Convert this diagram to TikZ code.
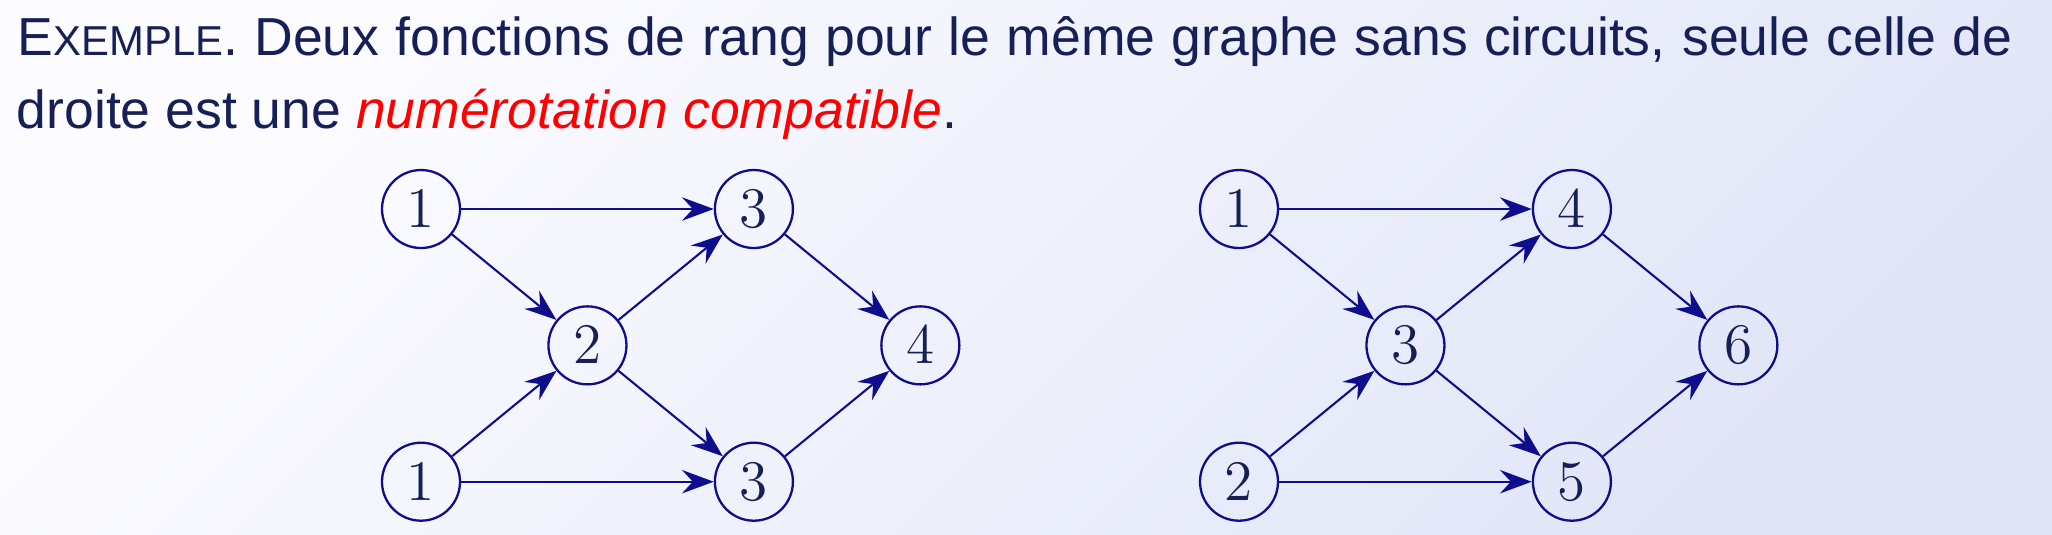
\RequirePackage{fix-cm}
\documentclass[tikz,border=0pt]{standalone}
\usepackage{fontspec}
\setmainfont{Liberation Sans}
\usepackage{xcolor}
\definecolor{ink}{RGB}{22,32,86}
\definecolor{trait}{RGB}{14,14,140}
\definecolor{fondA}{RGB}{252,252,255}
\definecolor{fondB}{RGB}{225,229,247}
\usepackage{tikz}
\usetikzlibrary{positioning, arrows.meta}

\begin{document}
\begin{tikzpicture}[
  x=0.2391pt, y=-0.2391pt,
  on grid, node distance=32.6pt and 39.8pt,
  sommet/.style={circle, draw=trait, line width=0.55pt, minimum size=18.65pt,
                 inner sep=0pt, text=ink, font=\fontsize{13.7}{16}\selectfont},
  titre/.style={anchor=base west, inner sep=0pt, text=ink,
                font=\fontsize{12.8}{15}\selectfont},
  arc/.style={-{Stealth[length=7.6pt, width=5.6pt, inset=2.6pt]},
              line width=0.5pt, color=trait},
]
  % fond
  \shade[top color=fondA, bottom color=fondB, shading angle=45]
    (0,0) rectangle (2052,534);
  \useasboundingbox (0,0) rectangle (2052,534);

  \node[titre] (ligne1) at (17,55)
    {\makebox[477pt][s]{E{\fontsize{10}{12}\selectfont XEMPLE}. Deux fonctions de rang pour le même graphe sans circuits, seule celle de}};
  \node[titre] (ligne2) at (16,128)
    {droite est une \textcolor{red}{\emph{numérotation compatible}}.};

  % graphe de gauche
  \node[sommet] (a1) at (421,209) {$1$};
  \node[sommet, below right=of a1] (a2) {$2$};
  \node[sommet, above right=of a2] (a3) {$3$};
  \node[sommet, below right=of a3] (a4) {$4$};
  \node[sommet, below left=of a2] (a5) {$1$};
  \node[sommet, below right=of a2] (a6) {$3$};

  \foreach \u/\v in {a1/a3, a1/a2, a2/a3, a3/a4, a5/a2, a5/a6, a2/a6, a6/a4}
    \draw[arc] (\u) -- (\v);

  % graphe de droite
  \node[sommet] (b1) at (1239,209) {$1$};
  \node[sommet, below right=of b1] (b3) {$3$};
  \node[sommet, above right=of b3] (b4) {$4$};
  \node[sommet, below right=of b4] (b6) {$6$};
  \node[sommet, below left=of b3] (b2) {$2$};
  \node[sommet, below right=of b3] (b5) {$5$};

  \foreach \u/\v in {b1/b4, b1/b3, b3/b4, b4/b6, b2/b3, b2/b5, b3/b5, b5/b6}
    \draw[arc] (\u) -- (\v);
\end{tikzpicture}
\end{document}
